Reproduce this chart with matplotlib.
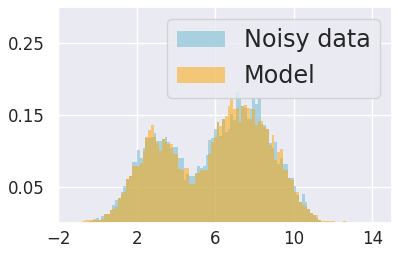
import numpy as np
import matplotlib
matplotlib.use('Agg')
import matplotlib.pyplot as plt
import seaborn as sns

# histogram bins (shared by both series)
bin_start = -1.35
bin_width = 0.14
n_bins = 100

# densities, one value per bin
noisy_data = [
    0.000, 0.000, 0.000, 0.000, 0.000, 0.000, 0.002, 0.003, 0.004, 0.0075,
    0.004, 0.010, 0.013, 0.013, 0.018, 0.025, 0.032, 0.035, 0.044, 0.052,
    0.061, 0.065, 0.085, 0.085, 0.101, 0.090, 0.104, 0.118, 0.118, 0.120,
    0.125, 0.114, 0.114, 0.117, 0.119, 0.113, 0.104, 0.106, 0.106, 0.090,
    0.0905, 0.060, 0.068, 0.065, 0.065, 0.070, 0.080, 0.077, 0.080, 0.094,
    0.1157, 0.1185, 0.131, 0.140, 0.121, 0.1447, 0.126, 0.131, 0.1516, 0.143,
    0.1815, 0.172, 0.162, 0.160, 0.145, 0.158, 0.1737, 0.166, 0.1737, 0.138,
    0.136, 0.131, 0.112, 0.105, 0.1125, 0.082, 0.090, 0.0826, 0.082, 0.063,
    0.0625, 0.052, 0.0394, 0.030, 0.041, 0.030, 0.0195, 0.0146, 0.011, 0.0075,
    0.004, 0.000, 0.000, 0.000, 0.000, 0.000, 0.000, 0.000, 0.000, 0.000,
]
model = [
    0.002, 0.000, 0.000, 0.002, 0.003, 0.004, 0.004, 0.004, 0.006, 0.005,
    0.004, 0.006, 0.013, 0.013, 0.018, 0.020, 0.022, 0.035, 0.040, 0.044,
    0.061, 0.065, 0.079, 0.079, 0.079, 0.083, 0.100, 0.120, 0.130, 0.136,
    0.120, 0.112, 0.100, 0.117, 0.113, 0.110, 0.110, 0.096, 0.0965, 0.075,
    0.0745, 0.077, 0.077, 0.054, 0.054, 0.068, 0.070, 0.0735, 0.074, 0.0745,
    0.0965, 0.1125, 0.120, 0.140, 0.1355, 0.145, 0.149, 0.163, 0.173, 0.158,
    0.160, 0.140, 0.163, 0.164, 0.160, 0.145, 0.158, 0.136, 0.1425, 0.1425,
    0.133, 0.131, 0.109, 0.122, 0.088, 0.099, 0.103, 0.0735, 0.0745, 0.063,
    0.0595, 0.043, 0.043, 0.030, 0.0247, 0.0225, 0.0195, 0.0146, 0.012, 0.012,
    0.005, 0.0036, 0.0036, 0.0036, 0.0036, 0.0036, 0.000, 0.000, 0.000, 0.003,
]

x_ticks = [-2, 2, 6, 10, 14]
y_ticks = [0.05, 0.15, 0.25]

sns.set_theme(style='darkgrid')
plt.rcParams['font.family'] = ['DejaVu Sans']

edges = bin_start + bin_width * np.arange(n_bins + 1)
centers = (edges[:-1] + edges[1:]) / 2

fig = plt.figure(figsize=(3.98, 2.59), dpi=100)
ax = fig.add_axes([0.1465, 0.138, 0.8385, 0.835])

ax.hist(centers, bins=edges, weights=noisy_data, color='#7cbfd1', alpha=0.6,
        edgecolor='none', linewidth=0, label='Noisy data')
ax.hist(centers, bins=edges, weights=model, color='orange', alpha=0.5,
        edgecolor='none', linewidth=0, label='Model')

ax.set_xlim(-2, 15)
ax.set_ylim(0, 0.3)
ax.set_xticks(x_ticks)
ax.set_yticks(y_ticks)
ax.set_yticklabels(['%.2f' % v for v in y_ticks])
ax.tick_params(axis='both', labelsize=12, colors='.15', length=0)
ax.tick_params(axis='y', pad=10)
ax.tick_params(axis='x', pad=5)

ax.legend(loc='upper right', fontsize=17.2)

fig.savefig('out.png', dpi=100)
